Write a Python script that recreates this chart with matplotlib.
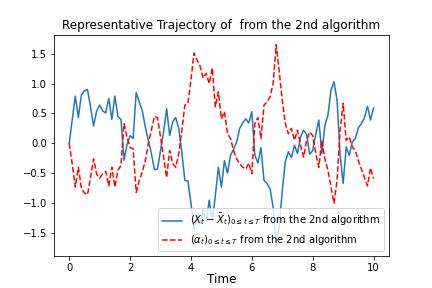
import numpy as np
import matplotlib.pyplot as plt

# time grid and the two trajectories
t = np.linspace(0, 10, 101)

x_dev = [0.0, 0.40, 0.79, 0.43, 0.81, 0.88, 0.90, 0.61, 0.29, 0.54,
         0.64, 0.54, 0.51, 0.75, 0.40, 0.79, 0.45, 0.40, -0.28, -0.02,
         0.13, 0.08, 0.85, 0.69, 0.55, 0.27, 0.05, -0.17, -0.44, -0.43,
         -0.12, 0.19, 0.58, 0.13, 0.36, 0.43, 0.25, -0.15, -0.62, -0.63,
         -1.00, -1.43, -1.20, -1.35, -1.10, -1.30, -0.95, -1.30, -0.88, -0.40,
         -0.73, -0.29, -0.50, -0.20, -0.10, 0.02, 0.25, 0.34, 0.41, 0.34,
         0.53, -0.20, -0.33, -0.07, -0.62, -0.67, -0.76, -1.07, -1.72, -1.40,
         -0.79, -0.31, -0.14, -0.24, -0.03, -0.17, 0.11, 0.22, 0.15, -0.18,
         -0.12, 0.15, 0.39, -0.17, 0.30, 0.47, 0.89, 1.03, 0.72, -0.19,
         -0.67, -0.06, -0.20, 0.02, 0.08, 0.26, 0.33, 0.43, 0.62, 0.39,
         0.59]

alpha = [0.0, -0.35, -0.73, -0.40, -0.75, -0.83, -0.86, -0.57, -0.26, -0.51,
         -0.58, -0.51, -0.47, -0.71, -0.40, -0.73, -0.45, -0.37, 0.33, 0.10,
         -0.07, -0.09, -0.82, -0.62, -0.48, -0.29, 0.0, 0.22, 0.45, 0.43,
         0.11, -0.23, -0.57, -0.12, -0.34, -0.40, -0.17, 0.22, 0.64, 0.67,
         1.06, 1.51, 1.39, 1.29, 1.09, 1.17, 1.00, 1.26, 0.61, 0.86,
         0.41, 0.53, 0.16, 0.08, -0.12, -0.26, -0.34, -0.40, -0.43, -0.33,
         -0.51, 0.33, 0.43, 0.08, 0.64, 0.69, 0.78, 1.00, 1.65, 1.20,
         0.72, 0.33, 0.16, 0.25, 0.05, 0.22, -0.03, -0.23, 0.05, 0.19,
         0.13, -0.17, -0.40, 0.05, -0.26, -0.45, -0.73, -1.00, -0.62, 0.22,
         0.67, 0.05, 0.11, -0.06, -0.12, -0.29, -0.43, -0.57, -0.71, -0.41,
         -0.59]

name = ''

plt.figure(figsize=(6, 4), dpi=72)
plt.plot(t, x_dev, label=r'$(X_t-\bar{X}_t)_{0\leq t\leq T}$ from the 2nd algorithm')
plt.plot(t, alpha, 'r--', label=r'$(\alpha_t)_{0\leq t\leq T}$ from the 2nd algorithm')
plt.xlabel('Time', fontsize=12, labelpad=0)
plt.title('Representative Trajectory of ' + name + ' from the 2nd algorithm')
plt.legend(loc='lower right')
plt.savefig('out.png')
